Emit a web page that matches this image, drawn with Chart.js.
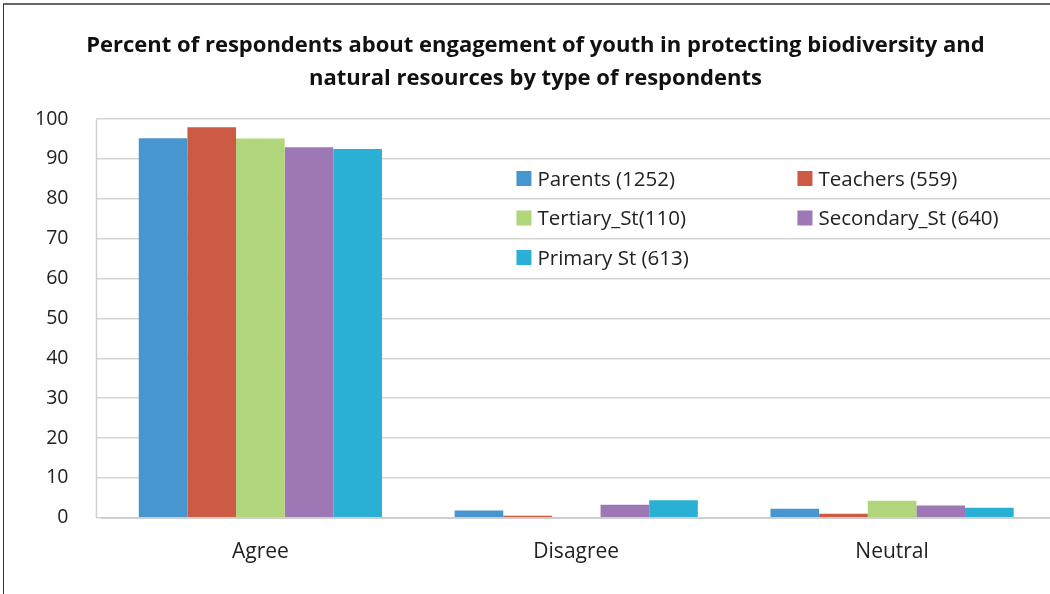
<!DOCTYPE html>
<html>
<head>
<meta charset="utf-8">
<script src="https://cdn.jsdelivr.net/npm/chart.js@4/dist/chart.umd.min.js"></script>
<style>
  html, body { margin: 0; padding: 0; background: #fff; overflow: hidden; }
  #grafico { position: absolute; left: 0; top: 0; display: block; }
  #marco {
    position: absolute; left: 3px; top: 3px; width: 1047px; height: 591px;
    border-top: 2px solid #666; border-left: 1px solid #333; box-sizing: border-box;
    pointer-events: none;
  }
</style>
</head>
<body>
<canvas id="grafico" width="1050" height="594"></canvas>
<div id="marco"></div>
<script>
// categorias y series
const categorias = ['Agree', 'Disagree', 'Neutral'];
const series = ['Parents (1252)', 'Teachers (559)', 'Tertiary_St(110)', 'Secondary_St (640)', 'Primary St (613)'];
const parents = [95.2, 1.8, 2.3];
const teachers = [97.9, 0.5, 1.0];
const tertiary = [95.1, 0, 4.3];
const secondary = [92.9, 3.3, 3.1];
const primary = [92.5, 4.4, 2.5];
const colores = ['#4796d0', '#cd5a45', '#b0d57a', '#9e78b5', '#2bb0d5'];
const ticksY = [0, 10, 20, 30, 40, 50, 60, 70, 80, 90, 100];

const valores = [parents, teachers, tertiary, secondary, primary];
const fuente = '"Open Sans", sans-serif';

// leyenda dibujada dentro del area del grafico, en dos columnas,
// y linea vertical del eje Y a la izquierda de las lineas de division
const extras = {
    id: 'extras',
    afterLayout(chart) {
        // centrar el titulo un poco mas a la derecha
        const t = chart.titleBlock;
        if (t) { t.left += 7; t.right += 7; }
    },
    afterDraw(chart) {
        const ctx = chart.ctx;
        const area = chart.chartArea;
        const ejeY = chart.scales.y;

        ctx.save();
        ctx.strokeStyle = '#cfcfcf';
        ctx.lineWidth = 1.5;
        ctx.beginPath();
        ctx.moveTo(area.left - 6, ejeY.getPixelForValue(100));
        ctx.lineTo(area.left - 6, area.bottom);
        ctx.stroke();

        const x0 = area.left + 414;
        const colAncho = 281;
        const y0 = area.top + 60;
        const filaAlto = 39.5;
        ctx.font = '20.5px ' + fuente;
        ctx.textBaseline = 'middle';
        chart.data.datasets.forEach((ds, i) => {
            const x = x0 + (i % 2) * colAncho;
            const y = y0 + Math.floor(i / 2) * filaAlto;
            ctx.fillStyle = ds.backgroundColor;
            ctx.fillRect(x, y - 8, 15, 15);
            ctx.fillStyle = '#222';
            ctx.fillText(ds.label, x + 21, y + 1);
        });
        ctx.restore();
    }
};

const ctx = document.getElementById('grafico').getContext('2d');
new Chart(ctx, {
    type: 'bar',
    data: {
        labels: categorias,
        datasets: series.map((nombre, i) => ({
            label: nombre,
            data: valores[i],
            backgroundColor: colores[i],
            borderWidth: 0,
            categoryPercentage: 0.77,
            barPercentage: 1
        }))
    },
    options: {
        responsive: false,
        animation: false,
        layout: { padding: { left: 7, right: 0, top: 0, bottom: 7 } },
        plugins: {
            legend: { display: false },
            tooltip: { enabled: false },
            title: {
                display: true,
                text: ['Percent of respondents about engagement of youth in protecting biodiversity and',
                       'natural resources by type of respondents'],
                color: '#111',
                font: { family: fuente, size: 22, weight: 'bold', lineHeight: 1.5 },
                padding: { top: 29, bottom: 24 }
            }
        },
        scales: {
            x: {
                grid: { display: false, drawTicks: false },
                border: { color: '#cfcfcf', width: 2 },
                ticks: {
                    color: '#222',
                    padding: 22,
                    font: { family: fuente, size: 21 }
                }
            },
            y: {
                min: 0,
                max: 100,
                afterBuildTicks: axis => { axis.ticks = ticksY.map(v => ({ value: v })); },
                grid: { color: '#d4d4d4', lineWidth: 1.5, drawTicks: true, tickLength: 6 },
                border: { display: false },
                ticks: {
                    color: '#222',
                    padding: 28,
                    font: { family: fuente, size: 19.5 }
                }
            }
        }
    },
    plugins: [extras]
});
</script>
</body>
</html>
